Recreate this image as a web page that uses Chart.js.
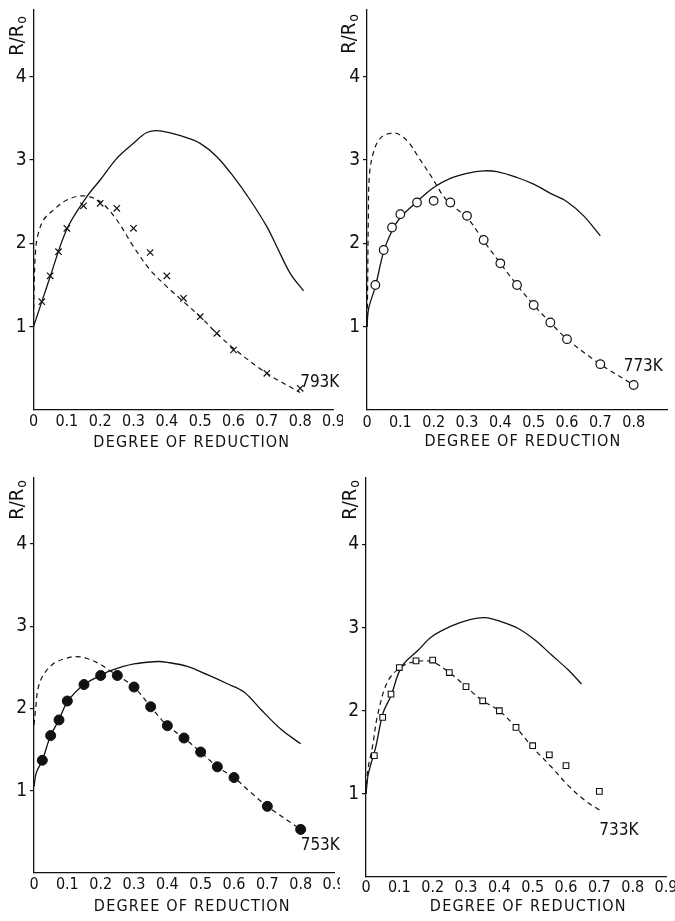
<!DOCTYPE html>
<html>
<head>
<meta charset="utf-8">
<script src="https://cdn.jsdelivr.net/npm/chart.js@4.4.1/dist/chart.umd.min.js"></script>
<style>
  html, body { margin: 0; padding: 0; background: #fff; }
  body { position: relative; width: 675px; height: 921px; overflow: hidden; }
  canvas { position: absolute; }
</style>
</head>
<body>
<canvas id="p793" width="343" height="455" style="left:0px;top:0px"></canvas>
<canvas id="p773" width="340" height="455" style="left:335px;top:0px"></canvas>
<canvas id="p753" width="340" height="461" style="left:0px;top:460px"></canvas>
<canvas id="p733" width="340" height="461" style="left:335px;top:460px"></canvas>
<script>
// ---- axis ticks and titles ----
const xTickValues = [0, 0.1, 0.2, 0.3, 0.4, 0.5, 0.6, 0.7, 0.8, 0.9];
const xTickValuesTo08 = [0, 0.1, 0.2, 0.3, 0.4, 0.5, 0.6, 0.7, 0.8];
const yTickValues = [1, 2, 3, 4];
const xTitle = 'DEGREE OF REDUCTION';
const yTitleMain = 'R/R';
const yTitleSub = 'o';

// ---- 793 K ----
const ptX793 = [0.025, 0.05, 0.075, 0.1, 0.15, 0.2, 0.25, 0.3, 0.35, 0.4, 0.45, 0.5, 0.55, 0.6, 0.7, 0.8];
const ptY793 = [1.30, 1.61, 1.90, 2.18, 2.45, 2.48, 2.42, 2.18, 1.89, 1.61, 1.34, 1.12, 0.92, 0.72, 0.44, 0.26];
const solidX793 = [0, 0.025, 0.05, 0.1, 0.16, 0.2, 0.25, 0.3, 0.34, 0.38, 0.45, 0.5, 0.55, 0.6, 0.65, 0.7, 0.73, 0.77, 0.81];
const solidY793 = [1.0, 1.30, 1.60, 2.17, 2.56, 2.76, 3.02, 3.20, 3.33, 3.35, 3.28, 3.20, 3.04, 2.80, 2.52, 2.20, 1.96, 1.64, 1.43];
const dashX793 = [0, 0.002, 0.006, 0.012, 0.03, 0.06, 0.1, 0.15, 0.2, 0.25, 0.3, 0.35, 0.4, 0.45, 0.5, 0.55, 0.6, 0.7, 0.8];
const dashY793 = [1.0, 1.5, 1.9, 2.08, 2.28, 2.40, 2.52, 2.57, 2.50, 2.28, 1.96, 1.68, 1.48, 1.30, 1.12, 0.92, 0.74, 0.44, 0.21];

// ---- 773 K ----
const ptX773 = [0.025, 0.05, 0.075, 0.1, 0.15, 0.2, 0.25, 0.3, 0.35, 0.4, 0.45, 0.5, 0.55, 0.6, 0.7, 0.8];
const ptY773 = [1.50, 1.92, 2.19, 2.35, 2.49, 2.51, 2.49, 2.33, 2.04, 1.76, 1.50, 1.26, 1.05, 0.85, 0.55, 0.30];
const solidX773 = [0, 0.005, 0.025, 0.05, 0.075, 0.1, 0.15, 0.2, 0.25, 0.3, 0.35, 0.39, 0.45, 0.5, 0.55, 0.6, 0.65, 0.7];
const solidY773 = [1.0, 1.22, 1.48, 1.90, 2.15, 2.31, 2.50, 2.67, 2.78, 2.84, 2.87, 2.86, 2.79, 2.71, 2.60, 2.50, 2.33, 2.09];
const dashX773 = [0, 0.002, 0.004, 0.008, 0.024, 0.045, 0.07, 0.095, 0.125, 0.155, 0.195, 0.225, 0.25, 0.3, 0.35, 0.4, 0.45, 0.5, 0.55, 0.6, 0.7, 0.8];
const dashY773 = [1.0, 1.5, 2.3, 2.85, 3.15, 3.28, 3.32, 3.31, 3.21, 3.03, 2.79, 2.59, 2.47, 2.31, 2.03, 1.76, 1.50, 1.26, 1.05, 0.85, 0.55, 0.30];

// ---- 753 K ----
const ptX753 = [0.025, 0.05, 0.075, 0.1, 0.15, 0.2, 0.25, 0.3, 0.35, 0.4, 0.45, 0.5, 0.55, 0.6, 0.7, 0.8];
const ptY753 = [1.37, 1.67, 1.86, 2.09, 2.29, 2.40, 2.40, 2.26, 2.02, 1.79, 1.64, 1.47, 1.29, 1.16, 0.81, 0.53];
const solidX753 = [0, 0.007, 0.025, 0.05, 0.075, 0.1, 0.15, 0.2, 0.23, 0.3, 0.37, 0.4, 0.46, 0.52, 0.58, 0.63, 0.68, 0.74, 0.8];
const solidY753 = [1.05, 1.22, 1.37, 1.67, 1.86, 2.08, 2.29, 2.40, 2.46, 2.54, 2.57, 2.56, 2.51, 2.41, 2.30, 2.20, 1.99, 1.75, 1.57];
const dashX753 = [0, 0.005, 0.012, 0.027, 0.057, 0.097, 0.127, 0.157, 0.197, 0.227, 0.25, 0.3, 0.35, 0.4, 0.45, 0.5, 0.55, 0.6, 0.65, 0.7, 0.8];
const dashY753 = [1.8, 2.0, 2.24, 2.40, 2.54, 2.61, 2.63, 2.61, 2.54, 2.46, 2.40, 2.26, 2.02, 1.79, 1.64, 1.47, 1.29, 1.16, 0.98, 0.81, 0.53];

// ---- 733 K ----
const ptX733 = [0.025, 0.05, 0.075, 0.1, 0.15, 0.2, 0.25, 0.3, 0.35, 0.4, 0.45, 0.5, 0.55, 0.6, 0.7];
const ptY733 = [1.46, 1.92, 2.20, 2.52, 2.60, 2.61, 2.46, 2.29, 2.12, 2.00, 1.80, 1.58, 1.47, 1.34, 1.03];
const solidX733 = [0, 0.007, 0.029, 0.051, 0.075, 0.107, 0.157, 0.197, 0.257, 0.307, 0.357, 0.407, 0.457, 0.507, 0.557, 0.607, 0.647];
const solidY733 = [1.0, 1.24, 1.56, 1.97, 2.18, 2.53, 2.73, 2.89, 3.02, 3.09, 3.12, 3.07, 2.99, 2.85, 2.67, 2.49, 2.32];
const dashX733 = [0, 0.006, 0.019, 0.036, 0.066, 0.107, 0.147, 0.197, 0.25, 0.3, 0.35, 0.4, 0.45, 0.5, 0.557, 0.607, 0.657, 0.702];
const dashY733 = [1.0, 1.30, 1.56, 1.97, 2.36, 2.53, 2.59, 2.59, 2.46, 2.29, 2.12, 2.00, 1.80, 1.56, 1.32, 1.10, 0.92, 0.80];

const FONT = "'DejaVu Sans Condensed', 'Liberation Sans', sans-serif";
const INK = '#111';

function pairs(xs, ys) {
  return xs.map((x, i) => ({ x: x, y: ys[i] }));
}

// Draws the axis captions and the temperature tag of each panel.
const captionPlugin = {
  id: 'captions',
  afterDraw(chart, args, opts) {
    const { ctx, scales, chartArea } = chart;
    const xs = scales.x, ys = scales.y;
    ctx.save();
    ctx.fillStyle = INK;
    ctx.textBaseline = 'middle';

    // x caption
    ctx.font = `16px ${FONT}`;
    ctx.letterSpacing = opts.titleSpacing + 'px';
    ctx.textAlign = 'center';
    ctx.fillText(xTitle, xs.getPixelForValue(opts.titleAt), opts.titleY);
    ctx.letterSpacing = '0px';

    // y caption, rotated, reading upwards and ending near the top of the axis
    ctx.save();
    ctx.translate(opts.yTitleX, chartArea.top + opts.yTitleEnd);
    ctx.rotate(-Math.PI / 2);
    ctx.textAlign = 'right';
    ctx.font = `14px ${FONT}`;
    ctx.fillText(yTitleSub, 0, 4);
    const subW = ctx.measureText(yTitleSub).width;
    ctx.font = `20px ${FONT}`;
    ctx.fillText(yTitleMain, -subW - 1, 0);
    ctx.restore();

    // temperature tag
    ctx.font = `17px ${FONT}`;
    ctx.textAlign = 'left';
    ctx.fillText(opts.tag, xs.getPixelForValue(opts.tagX), ys.getPixelForValue(opts.tagY));
    ctx.restore();
  }
};

function makePanel(id, p) {
  const W = p.canvasW, H = p.canvasH;
  const line = { showLine: true, borderColor: INK, pointRadius: 0, tension: 0.35 };
  new Chart(document.getElementById(id), {
    type: 'scatter',
    data: {
      datasets: [
        {
          data: pairs(p.ptX, p.ptY),
          showLine: false,
          pointStyle: p.marker.style,
          pointRadius: p.marker.radius,
          pointBorderWidth: p.marker.width,
          pointBorderColor: INK,
          pointBackgroundColor: p.marker.fill
        },
        Object.assign({ data: pairs(p.dashX, p.dashY), borderWidth: 1.2, borderDash: [5, 4] }, line),
        Object.assign({ data: pairs(p.solidX, p.solidY), borderWidth: 1.3 }, line)
      ]
    },
    options: {
      responsive: false,
      animation: false,
      devicePixelRatio: 1,
      events: [],
      layout: { padding: { left: 0, top: p.top, right: W - p.axisX - 300, bottom: 0 } },
      plugins: {
        legend: { display: false },
        tooltip: { enabled: false },
        captions: p.captions
      },
      scales: {
        x: {
          type: 'linear',
          min: 0,
          max: 0.9,
          afterBuildTicks(s) { s.ticks = p.xTicks.map(v => ({ value: v })); },
          afterFit(s) {
            s.height = H - p.bottom;
            s.paddingLeft = 0; s.paddingRight = 0; s.paddingTop = 0; s.paddingBottom = 0;
          },
          ticks: {
            autoSkip: false,
            maxRotation: 0,
            padding: p.xTickPad,
            color: INK,
            font: { family: FONT, size: 16 },
            callback: v => (v === 0 ? '0' : v.toFixed(1))
          },
          grid: { display: false, drawTicks: false },
          border: { display: true, color: INK, width: 1.3 }
        },
        y: {
          type: 'linear',
          min: 0,
          max: 4.8,
          afterBuildTicks(s) { s.ticks = yTickValues.map(v => ({ value: v })); },
          afterFit(s) {
            s.width = p.axisX;
            s.paddingLeft = 0; s.paddingRight = 0; s.paddingTop = 0; s.paddingBottom = 0;
          },
          ticks: {
            padding: 3,
            color: INK,
            font: { family: FONT, size: 19 },
            callback: v => String(v)
          },
          grid: { display: true, drawOnChartArea: false, drawTicks: true, tickLength: 4, color: INK, lineWidth: 1.2 },
          border: { display: true, color: INK, width: 1.3 }
        }
      }
    },
    plugins: [captionPlugin]
  });
}

makePanel('p793', {
  canvasW: 343, canvasH: 455, axisX: 33.5, top: 10, bottom: 410,
  xTicks: xTickValues, xTickPad: 2,
  ptX: ptX793, ptY: ptY793, solidX: solidX793, solidY: solidY793, dashX: dashX793, dashY: dashY793,
  marker: { style: 'crossRot', radius: 4.5, width: 1.2, fill: INK },
  captions: { titleAt: 0.475, titleY: 443, titleSpacing: 1.2, yTitleX: 18, yTitleEnd: 6, tag: '793K', tagX: 0.80, tagY: 0.33 }
});
makePanel('p773', {
  canvasW: 340, canvasH: 455, axisX: 32, top: 10, bottom: 410,
  xTicks: xTickValuesTo08, xTickPad: 3,
  ptX: ptX773, ptY: ptY773, solidX: solidX773, solidY: solidY773, dashX: dashX773, dashY: dashY773,
  marker: { style: 'circle', radius: 4.3, width: 1.2, fill: '#fff' },
  captions: { titleAt: 0.468, titleY: 442, titleSpacing: 1.2, yTitleX: 15, yTitleEnd: 4, tag: '773K', tagX: 0.77, tagY: 0.52 }
});
makePanel('p753', {
  canvasW: 340, canvasH: 461, axisX: 34, top: 18, bottom: 413,
  xTicks: xTickValues, xTickPad: 2,
  ptX: ptX753, ptY: ptY753, solidX: solidX753, solidY: solidY753, dashX: dashX753, dashY: dashY753,
  marker: { style: 'circle', radius: 5, width: 1, fill: INK },
  captions: { titleAt: 0.475, titleY: 447, titleSpacing: 1.2, yTitleX: 18, yTitleEnd: 2, tag: '753K', tagX: 0.80, tagY: 0.33 }
});
makePanel('p733', {
  canvasW: 340, canvasH: 461, axisX: 31, top: 18, bottom: 417,
  xTicks: xTickValues, xTickPad: 1,
  ptX: ptX733, ptY: ptY733, solidX: solidX733, solidY: solidY733, dashX: dashX733, dashY: dashY733,
  marker: { style: 'rect', radius: 4, width: 1.1, fill: '#fff' },
  captions: { titleAt: 0.487, titleY: 447, titleSpacing: 1.2, yTitleX: 16, yTitleEnd: 2, tag: '733K', tagX: 0.70, tagY: 0.56 }
});
</script>
</body>
</html>
